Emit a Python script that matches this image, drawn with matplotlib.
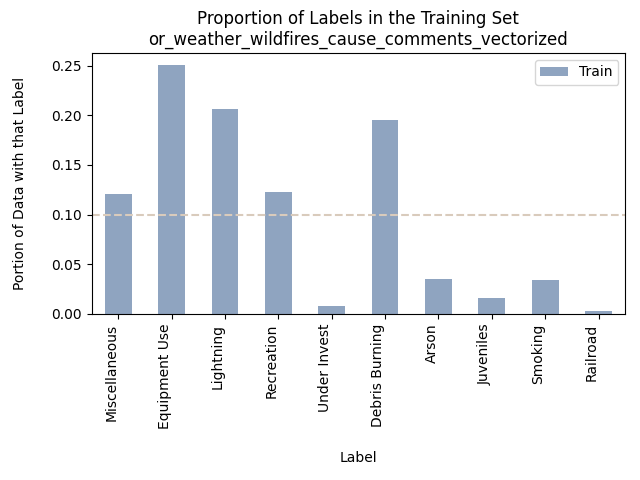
import pandas as pd
import numpy as np
import matplotlib
matplotlib.use('Agg')
import matplotlib.pyplot as plt

# Label proportions
labels = ['Miscellaneous', 'Equipment Use', 'Lightning', 'Recreation', 'Under Invest',
          'Debris Burning', 'Arson', 'Juveniles', 'Smoking', 'Railroad']
train = [0.1208, 0.2503, 0.2061, 0.1228, 0.0083, 0.1951, 0.0354, 0.0164, 0.0344, 0.0033]
threshold = 0.1

def main():
    df = pd.DataFrame({'Train': train}, index=labels)

    fig, ax = plt.subplots(figsize=(6.4, 4.8), dpi=100)
    df.plot.bar(ax=ax, color='#8fa4c0')
    ax.axhline(threshold, color='#d9cbbc', linestyle='--', linewidth=1.5)
    plt.setp(ax.get_xticklabels(), rotation=90, ha='right')
    ax.set_xlabel('Label')
    ax.xaxis.set_label_coords(0.5, -0.525)
    ax.set_ylabel('Portion of Data with that Label')
    ax.yaxis.set_label_coords(-0.12, 0.5)
    ax.set_title('Proportion of Labels in the Training Set\nor_weather_wildfires_cause_comments_vectorized')
    ax.legend(loc='upper right')
    fig.subplots_adjust(left=0.143, right=0.977, top=0.89, bottom=0.346)
    plt.savefig('out.png')

if __name__ == "__main__":
    main()
